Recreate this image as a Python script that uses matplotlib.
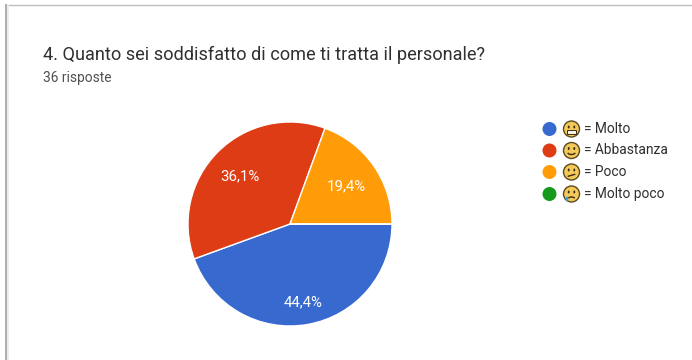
import matplotlib
matplotlib.use("Agg")
import matplotlib.pyplot as plt
from matplotlib.patches import Arc, Circle, Ellipse, Rectangle

plt.rcParams['font.family'] = ['Roboto', 'DejaVu Sans']

title = "4. Quanto sei soddisfatto di come ti tratta il personale?"
subtitle = "36 risposte"
categories = ["Molto", "Abbastanza", "Poco", "Molto poco"]
faces = ["grin", "smile", "confused", "cry"]
values = [44.4, 36.1, 19.4, 0.0]
colors = ["#3869cf", "#dd3c15", "#ff9c08", "#159a1e"]


def draw_face(ax, x, y, kind):
    # small emoji, 16 px wide, in the pixel coordinates of the overlay
    r = 8
    ax.add_patch(Circle((x, y), r, fc="#f4c95a", ec="#5a4a20", lw=1.0))
    ax.add_patch(Ellipse((x - 2.8, y - 2), 1.9, 3.0, fc="#3a2c10", ec="none"))
    ax.add_patch(Ellipse((x + 2.8, y - 2), 1.9, 3.0, fc="#3a2c10", ec="none"))
    if kind == "grin":
        ax.add_patch(Rectangle((x - 4.6, y + 1.0), 9.2, 3.8, fc="#f4f1e6", ec="#3a2c10", lw=0.7))
    elif kind == "smile":
        ax.add_patch(Arc((x, y + 1.0), 8.6, 6, theta1=20, theta2=160, color="#3a2c10", lw=1))
    elif kind == "confused":
        ax.plot([x - 3.2, x + 3.2], [y + 4.2, y + 2.4], color="#3a2c10", lw=1)
    else:
        ax.add_patch(Arc((x, y + 5.4), 7.4, 4.8, theta1=200, theta2=340, color="#3a2c10", lw=1))
        ax.add_patch(Ellipse((x - 4.6, y + 4.8), 2.8, 4.4, fc="#3c9fd8", ec="none"))


def main():
    fig = plt.figure(figsize=(6.92, 3.6), dpi=100, facecolor="white")

    # overlay in pixels for the card frame, heading and legend
    over = fig.add_axes([0, 0, 1, 1])
    over.set_xlim(0, 692)
    over.set_ylim(360, 0)
    over.axis("off")

    over.plot([6, 692], [5, 5], color="#bdbdbd", lw=1.0)
    over.plot([6, 6], [5, 360], color="#adadad", lw=1.4)
    over.plot([8, 8], [6, 360], color="#ececec", lw=1.4)

    over.text(43, 55, title, fontsize=13.05, color="#303030", va="center", ha="left")
    over.text(43, 78, subtitle, fontsize=9.9, color="#505050", va="center", ha="left")

    rows = [129, 150.5, 172, 194]
    for y, name, kind, c in zip(rows, categories, faces, colors):
        over.add_patch(Circle((549.5, y), 7, fc=c, ec="none"))
        draw_face(over, 571.5, y, kind)
        over.text(584.5, y, "= " + name, fontsize=9.9, color="#303030", va="center", ha="left")

    # pie centre (290, 224) radius 102 px
    ax = fig.add_axes([188 / 692, (360 - 326) / 360, 204 / 692, 204 / 360])
    wedges, _ = ax.pie(values, colors=colors, startangle=0, counterclock=False,
                       radius=1.0, wedgeprops={"edgecolor": "white", "linewidth": 1.0})
    ax.set_xlim(-1, 1)
    ax.set_ylim(-1, 1)

    # percentages sit inside their slices
    ax.text(0.13, -0.77, "44,4%", color="white", fontsize=10.8, ha="center", va="center")
    ax.text(-0.49, 0.47, "36,1%", color="white", fontsize=10.8, ha="center", va="center")
    ax.text(0.55, 0.37, "19,4%", color="white", fontsize=10.8, ha="center", va="center")

    fig.savefig("out.png", dpi=100)


if __name__ == '__main__':
    main()
